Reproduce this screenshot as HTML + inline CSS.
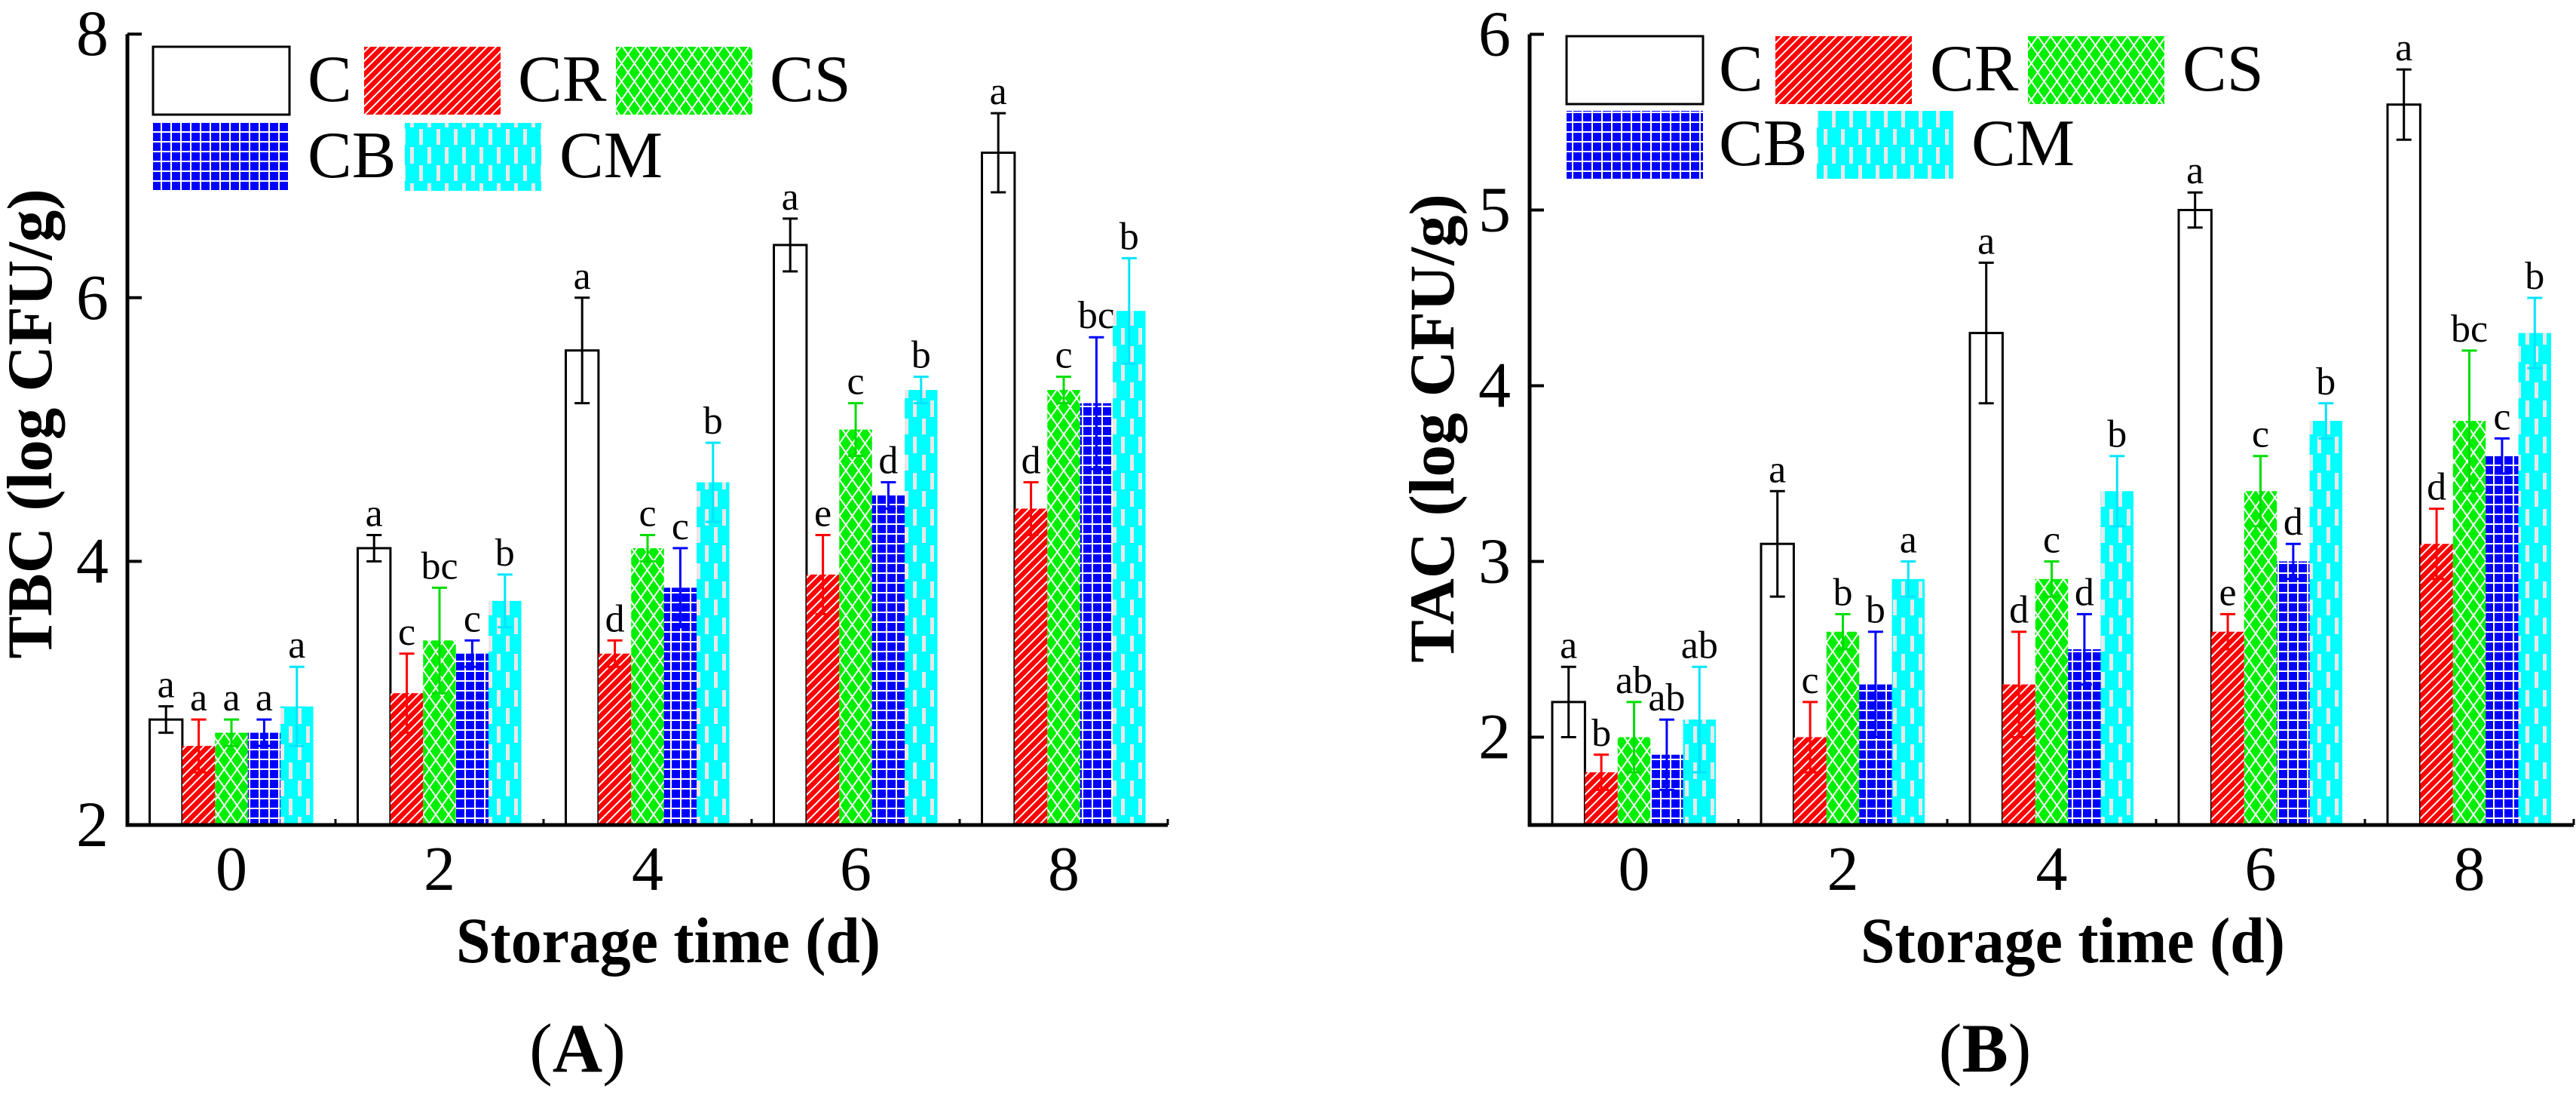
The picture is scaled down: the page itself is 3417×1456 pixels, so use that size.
<!DOCTYPE html>
<html><head><meta charset="utf-8"><style>
html,body{margin:0;padding:0;background:#fff;}
svg{display:block;}
svg text{font-family:"Liberation Serif","DejaVu Serif",serif;}
</style></head><body>
<svg id="fig" width="3417" height="1456" viewBox="0 0 3417 1456" xmlns="http://www.w3.org/2000/svg" font-family="Liberation Serif, serif">
<defs>
<pattern id="pCR" patternUnits="userSpaceOnUse" width="12" height="12">
<rect width="12" height="12" fill="#ff0000"/>
<path d="M-3,3 L3,-3 M0,12 L12,0 M9,15 L15,9" stroke="#fff" stroke-width="2"/>
</pattern>
<pattern id="pCS" patternUnits="userSpaceOnUse" width="17" height="24">
<rect width="17" height="24" fill="#00ee00"/>
<path d="M0,0 L17,24 M17,0 L0,24" stroke="#fff" stroke-width="2"/>
</pattern>
<pattern id="pCB" patternUnits="userSpaceOnUse" width="13" height="13">
<rect width="13" height="13" fill="#0000ff"/>
<path d="M6,0 V13 M0,6 H13" stroke="#fff" stroke-width="2"/>
</pattern>
<pattern id="pCM" patternUnits="userSpaceOnUse" width="23" height="48">
<rect width="23" height="48" fill="#00ffff"/>
<rect x="4" y="27" width="5" height="22" fill="#e8e8e8"/>
<rect x="15" y="3" width="5" height="22" fill="#e8e8e8"/>
</pattern>
</defs>
<g id="panelA"></g>
<g id="panelB"></g>
</svg>
<script>
const days = ["0","2","4","6","8"];
const seriesNames = ["C","CR","CS","CB","CM"];
const tbcC  = [2.8,4.1,5.6,6.4,7.1];
const tbcCR = [2.6,3.0,3.3,3.9,4.4];
const tbcCS = [2.7,3.4,4.1,5.0,5.3];
const tbcCB = [2.7,3.3,3.8,4.5,5.2];
const tbcCM = [2.9,3.7,4.6,5.3,5.9];
const tbcErrC  = [0.1,0.1,0.4,0.2,0.3];
const tbcErrCR = [0.2,0.3,0.1,0.3,0.2];
const tbcErrCS = [0.1,0.4,0.1,0.2,0.1];
const tbcErrCB = [0.1,0.1,0.3,0.1,0.5];
const tbcErrCM = [0.3,0.2,0.3,0.1,0.4];
const tbcLetC  = ["a","a","a","a","a"];
const tbcLetCR = ["a","c","d","e","d"];
const tbcLetCS = ["a","bc","c","c","c"];
const tbcLetCB = ["a","c","c","d","bc"];
const tbcLetCM = ["a","b","b","b","b"];
const tbcTicks = [2,4,6,8];
const tacC  = [2.2,3.1,4.3,5.0,5.6];
const tacCR = [1.8,2.0,2.3,2.6,3.1];
const tacCS = [2.0,2.6,2.9,3.4,3.8];
const tacCB = [1.9,2.3,2.5,3.0,3.6];
const tacCM = [2.1,2.9,3.4,3.8,4.3];
const tacErrC  = [0.2,0.3,0.4,0.1,0.2];
const tacErrCR = [0.1,0.2,0.3,0.1,0.2];
const tacErrCS = [0.2,0.1,0.1,0.2,0.4];
const tacErrCB = [0.2,0.3,0.2,0.1,0.1];
const tacErrCM = [0.3,0.1,0.2,0.1,0.2];
const tacLetC  = ["a","a","a","a","a"];
const tacLetCR = ["b","c","d","e","d"];
const tacLetCS = ["ab","b","c","c","bc"];
const tacLetCB = ["ab","b","d","d","c"];
const tacLetCM = ["ab","a","b","b","b"];
const tacTicks = [2,3,4,5,6];

const NS="http://www.w3.org/2000/svg";
const fills=["#fff","url(#pCR)","url(#pCS)","url(#pCB)","url(#pCM)"];
const ecol=["#000","#ff0000","#00dd00","#0000ff","#00e5ff"];
function mk(tag,attrs,parent){const e=document.createElementNS(NS,tag);for(const k in attrs)e.setAttribute(k,attrs[k]);parent.appendChild(e);return e;}

function drawPanel(g,cfg){
  const yOf=v=>cfg.y0-(v-cfg.vmin)*cfg.ppu;
  const xBand=i=>cfg.x0+(i+0.5)*cfg.band;
  const bw=43.4;
  cfg.vals.forEach((arr,s)=>{
    arr.forEach((v,i)=>{
      const x=xBand(i)-2.5*bw+s*bw;
      const r=mk('rect',{x:x,y:yOf(v),width:bw,height:cfg.y0-yOf(v),fill:fills[s],stroke:s===0?'#000':'none','stroke-width':3},g);
      
      
      const e=cfg.errs[s][i],cx=x+bw/2;
      const eb=mk('path',{d:`M${cx},${yOf(v+e)}V${yOf(v-e)}M${cx-10},${yOf(v+e)}H${cx+10}M${cx-10},${yOf(v-e)}H${cx+10}`,stroke:ecol[s],'stroke-width':3,fill:'none'},g);
      
      
      const t=mk('text',{x:cx,y:yOf(v+e)-12,'text-anchor':'middle','font-size':52},g);
      t.textContent=cfg.lets[s][i];
      
      
    });
  });
  const xEnd=cfg.x0+5*cfg.band;
  const ax=mk('path',{d:`M${cfg.x0},${yOf(cfg.vmax)}V${cfg.y0}H${xEnd}`,stroke:'#000','stroke-width':5,fill:'none'},g);
  
  
  for(let i=1;i<=5;i++){
    const tx=cfg.x0+i*cfg.band;
    const tk=mk('line',{x1:tx,x2:tx,y1:cfg.y0,y2:cfg.y0-8,stroke:'#000','stroke-width':3},g);
    
    
  }
  days.forEach((d,i)=>{
    const t=mk('text',{x:xBand(i),y:1180,'text-anchor':'middle','font-size':84},g);
    t.textContent=d;
    
    
  });
  cfg.ticks.forEach(v=>{
    const y=yOf(v);
    const tk=mk('line',{x1:cfg.x0,x2:cfg.x0+19,y1:y,y2:y,stroke:'#000','stroke-width':4},g);
    
    
    const t=mk('text',{x:cfg.x0-25,y:y+28,'text-anchor':'end','font-size':86},g);
    t.textContent=String(v);
    
    
  });
  const yt=mk('text',{x:0,y:0,transform:`translate(${cfg.ytx},${cfg.yty}) rotate(-90)`,'text-anchor':'middle','font-size':85,'font-weight':'bold'},g);
  yt.textContent=cfg.ytitle;
  
  
  const xt=mk('text',{x:cfg.xtx,y:1276,'font-size':86,'font-weight':'bold',textLength:563,lengthAdjust:'spacingAndGlyphs'},g);
  xt.textContent='Storage time (d)';
  
  
  const pl=mk('text',{x:cfg.plx,y:1421,'text-anchor':'middle','font-size':92},g);
  pl.innerHTML='(<tspan font-weight="bold">'+cfg.plabel+'</tspan>)';
  
  
  cfg.leg.forEach((L,s)=>{
    const lg=mk('g',{},g);
    
    
    mk('rect',{x:L[0],y:L[1],width:181,height:90,fill:fills[s],stroke:s===0?'#000':'none','stroke-width':3},lg);
    const t=mk('text',{x:L[2],y:L[1]+72,'font-size':88},lg);
    t.textContent=seriesNames[s];
  });
}
drawPanel(document.getElementById('panelA'),{
  x0:169,y0:1094,band:276,vmin:2,vmax:8,ppu:174.8,
  vals:[tbcC,tbcCR,tbcCS,tbcCB,tbcCM],errs:[tbcErrC,tbcErrCR,tbcErrCS,tbcErrCB,tbcErrCM],
  lets:[tbcLetC,tbcLetCR,tbcLetCS,tbcLetCB,tbcLetCM],ticks:tbcTicks,
  ytitle:'TBC (log CFU/g)',ytx:68,yty:562,xtx:605,plx:766,plabel:'A',
  leg:[[203,62,408],[483,62,687],[817,62,1021],[203,163,408],[537,163,742]]
});
drawPanel(document.getElementById('panelB'),{
  x0:2029,y0:1094,band:277,vmin:1.5,vmax:6,ppu:233,
  vals:[tacC,tacCR,tacCS,tacCB,tacCM],errs:[tacErrC,tacErrCR,tacErrCS,tacErrCB,tacErrCM],
  lets:[tacLetC,tacLetCR,tacLetCS,tacLetCB,tacLetCM],ticks:tacTicks,
  ytitle:'TAC (log CFU/g)',ytx:1928,yty:568,xtx:2468,plx:2633,plabel:'B',
  leg:[[2078,48,2280],[2355,48,2560],[2690,48,2895],[2078,147,2280],[2410,147,2615]]
});
</script>
</body></html>
